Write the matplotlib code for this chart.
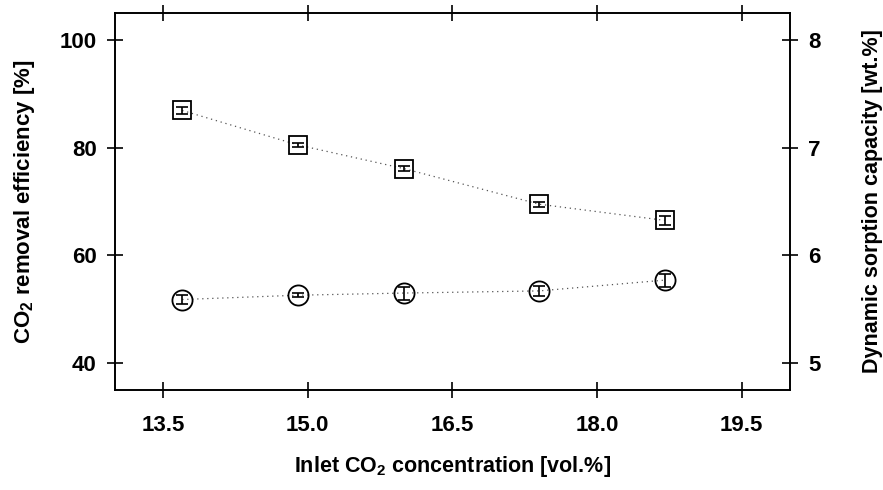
import matplotlib
matplotlib.use("Agg")
import matplotlib.pyplot as plt

plt.rcParams['font.family'] = ['Liberation Sans', 'DejaVu Sans']
plt.rcParams['font.weight'] = 'bold'
plt.rcParams['mathtext.fontset'] = 'custom'
plt.rcParams['mathtext.rm'] = 'Liberation Sans:bold'
plt.rcParams['mathtext.bf'] = 'Liberation Sans:bold'
plt.rcParams['mathtext.it'] = 'Liberation Sans:bold'
plt.rcParams['mathtext.default'] = 'bf'

# Data
inlet_co2 = [13.7, 14.9, 16.0, 17.4, 18.7]
removal_eff = [86.9, 80.5, 76.1, 69.5, 66.5]
removal_err = [0.7, 0.3, 0.5, 0.5, 0.8]
sorption_cap = [5.59, 5.63, 5.65, 5.67, 5.77]
sorption_err = [0.04, 0.02, 0.06, 0.05, 0.06]

x_ticks = [13.5, 15.0, 16.5, 18.0, 19.5]
y_left_ticks = [40, 60, 80, 100]
y_right_ticks = [5, 6, 7, 8]

fig = plt.figure(figsize=(8.83, 4.90), dpi=100)
ax = fig.add_axes([114.7/883, 1-390/490, (790-114.7)/883, (390-13)/490])
ax2 = ax.twinx()

line_kw = dict(color='#555555', linestyle=(0, (1, 3)), linewidth=0.9)
ax.plot(inlet_co2, removal_eff, **line_kw, zorder=1)
ax.errorbar(inlet_co2, removal_eff, yerr=removal_err, fmt='none', ecolor='black',
            elinewidth=1.2, capsize=4, capthick=1.2, zorder=2)
ax.plot(inlet_co2, removal_eff, linestyle='none', marker='s', markersize=13.5,
        markerfacecolor='none', markeredgecolor='black', markeredgewidth=1.3, zorder=3)

ax2.plot(inlet_co2, sorption_cap, **line_kw, zorder=1)
ax2.errorbar(inlet_co2, sorption_cap, yerr=sorption_err, fmt='none', ecolor='black',
             elinewidth=1.2, capsize=4, capthick=1.2, zorder=2)
ax2.plot(inlet_co2, sorption_cap, linestyle='none', marker='o', markersize=14.5,
         markerfacecolor='none', markeredgecolor='black', markeredgewidth=1.3, zorder=3)

ax.set_xlim(13.0, 20.0)
ax.set_ylim(35, 105)
ax2.set_ylim(4.75, 8.25)
ax.set_xticks(x_ticks)
ax.set_xticklabels([f"{v:.1f}" for v in x_ticks])
ax.set_yticks(y_left_ticks)
ax2.set_yticks(y_right_ticks)

for a in (ax, ax2):
    for s in a.spines.values():
        s.set_linewidth(1.2)
ax.tick_params(axis='both', direction='inout', length=12, width=1.2, labelsize=16, pad=7)
ax.tick_params(axis='x', top=True, pad=12)
ax2.tick_params(axis='y', direction='inout', length=12, width=1.2, labelsize=16, pad=7)

ax.set_xlabel('Inlet CO$_2$ concentration [vol.%]', fontsize=15.5, fontweight='bold', labelpad=13)
ax.set_ylabel('CO$_2$ removal efficiency [%]', fontsize=16, fontweight='bold', labelpad=16)
ax2.set_ylabel('Dynamic sorption capacity [wt.%]', fontsize=15.5, fontweight='bold', labelpad=30)

fig.savefig('out.png', dpi=100)
